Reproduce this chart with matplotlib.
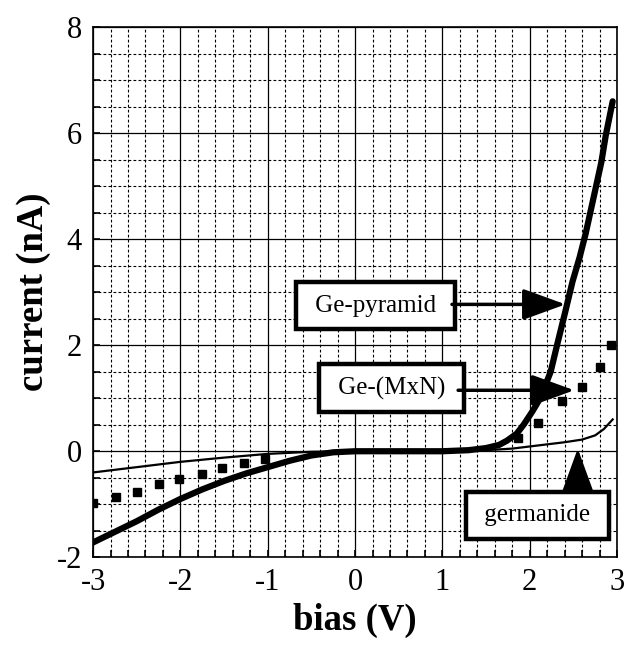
import matplotlib.pyplot as plt
from matplotlib.ticker import MultipleLocator
from matplotlib.patches import FancyArrowPatch

# Ge-pyramid (thick line)
pyr_x = [-3.0, -2.75, -2.5, -2.25, -2.0, -1.75, -1.5, -1.25, -1.0, -0.75, -0.5, -0.25, 0.0,
         0.5, 1.0, 1.3, 1.5, 1.65, 1.74, 1.85, 1.93, 2.03, 2.12, 2.24, 2.32, 2.41, 2.49,
         2.57, 2.64, 2.7, 2.76, 2.82, 2.87, 2.95]
pyr_y = [-1.72, -1.52, -1.32, -1.1, -0.9, -0.72, -0.56, -0.42, -0.3, -0.18, -0.08, -0.02, 0.0,
         0.0, 0.0, 0.02, 0.06, 0.12, 0.2, 0.33, 0.5, 0.75, 1.0, 1.5, 2.05, 2.65, 3.2,
         3.65, 4.1, 4.55, 5.0, 5.45, 5.95, 6.6]

# Ge-(MxN) (square markers)
mxn_x = [-3.0, -2.74, -2.5, -2.25, -2.02, -1.75, -1.52, -1.27, -1.03,
         1.87, 2.1, 2.37, 2.6, 2.8, 2.93]
mxn_y = [-0.98, -0.87, -0.77, -0.62, -0.53, -0.42, -0.32, -0.23, -0.15,
         0.25, 0.53, 0.94, 1.21, 1.59, 2.0]

# germanide (thin line)
ger_x = [-3.0, -2.5, -2.0, -1.5, -1.0, -0.5, 0.0, 0.5, 1.0, 1.5, 1.8, 2.0, 2.2, 2.4, 2.6, 2.75, 2.85, 2.95]
ger_y = [-0.4, -0.3, -0.2, -0.12, -0.05, -0.01, 0.0, 0.0, 0.0, 0.02, 0.05, 0.09, 0.13, 0.17, 0.22, 0.3, 0.42, 0.6]

plt.rcParams["font.family"] = ["Liberation Serif", "DejaVu Serif"]
plt.rcParams["axes.unicode_minus"] = False

fig = plt.figure(figsize=(6.29, 6.45), dpi=100)
ax = fig.add_axes([0.148, 0.136, 0.833, 0.822])

ax.set_xlim(-3, 3)
ax.set_ylim(-2, 8)
ax.xaxis.set_major_locator(MultipleLocator(1))
ax.xaxis.set_minor_locator(MultipleLocator(0.2))
ax.yaxis.set_major_locator(MultipleLocator(2))
ax.yaxis.set_minor_locator(MultipleLocator(0.5))
ax.grid(which="major", color="black", linewidth=0.9)
ax.grid(which="minor", color="black", linewidth=0.8, linestyle=(0, (2.5, 2)))
ax.tick_params(which="both", direction="in", length=5, width=1.2, labelsize=22, pad=8)
for s in ax.spines.values():
    s.set_linewidth(1.2)

ax.plot(ger_x, ger_y, color="black", linewidth=1.6)
ax.plot(pyr_x, pyr_y, color="black", linewidth=4.5, solid_capstyle="round")
ax.plot(mxn_x, mxn_y, linestyle="none", marker="s", markersize=6, color="black")

ax.set_xlabel("bias (V)", fontsize=26.5, fontweight="bold", labelpad=4)
ax.set_ylabel("current (nA)", fontsize=26.5, fontweight="bold", labelpad=4)

box = dict(boxstyle="square,pad=0.5", facecolor="white", edgecolor="black", linewidth=3.2)

def label(text, xy_text, start, tip):
    ax.text(xy_text[0], xy_text[1], " " + text + " ", fontsize=18, ha="center", va="center",
            bbox=box, zorder=5)
    arr = FancyArrowPatch(start, tip, arrowstyle="-|>,head_length=2.2,head_width=0.8",
                          color="black", linewidth=2.5, mutation_scale=12,
                          shrinkA=0, shrinkB=0, zorder=6)
    ax.add_patch(arr)

label("Ge-pyramid", (0.234, 2.74), (1.11, 2.77), (2.41, 2.77))
label("Ge-(MxN)", (0.42, 1.19), (1.18, 1.15), (2.51, 1.15))
label("germanide", (2.09, -1.21), (2.55, -0.77), (2.55, 0.05))

fig.savefig("out.png", dpi=100)
